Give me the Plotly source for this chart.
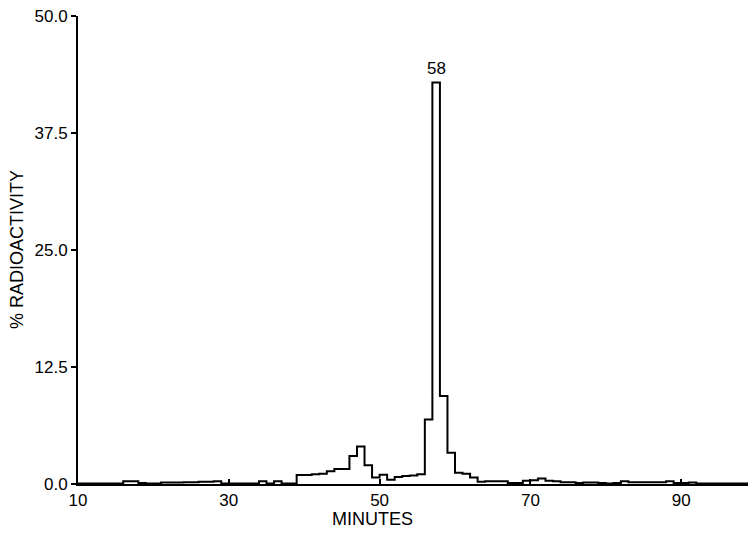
import plotly.graph_objects as go

# Fraction collection: each bin covers the minute before its end time
bin_end_minutes = list(range(11, 100))
radioactivity = [
    0.05, 0.05, 0.05, 0.05, 0.05, 0.05,          # 11-16
    0.3, 0.3, 0.1, 0.05,                         # 17-20
    0.05, 0.15, 0.15, 0.15, 0.2, 0.2, 0.25, 0.25, 0.3, 0.05,   # 21-30
    0.05, 0.05, 0.05, 0.05, 0.3, 0.05, 0.3, 0.05, 0.05, 0.95,  # 31-40
    0.95, 1.05, 1.1, 1.35, 1.6, 1.6, 3.0, 4.0, 2.0, 0.7,       # 41-50
    1.0, 0.45, 0.75, 0.85, 0.9, 1.05, 6.9, 42.9, 9.4, 3.35,    # 51-60
    1.2, 1.1, 0.7, 0.25, 0.3, 0.3, 0.3, 0.1, 0.1, 0.35,        # 61-70
    0.4, 0.6, 0.35, 0.3, 0.2, 0.2, 0.1, 0.15, 0.15, 0.1,       # 71-80
    0.05, 0.1, 0.3, 0.2, 0.2, 0.2, 0.2, 0.2, 0.3, 0.1,         # 81-90
    0.1, 0.15, 0.05, 0.05, 0.05, 0.05, 0.05, 0.05, 0.05,       # 91-99
]
y_tick_values = [0, 12.5, 25, 37.5, 50]
y_tick_labels = ["0.0", "12.5", "25.0", "37.5", "50.0"]
x_tick_values = [10, 30, 50, 70, 90]
peak_label = "58"
x_title = "MINUTES"
y_title = "% RADIOACTIVITY"

bin_starts = [m - 1 for m in bin_end_minutes]
step_x = bin_starts + [bin_end_minutes[-1]]
step_y = radioactivity + [radioactivity[-1]]

peak_idx = bin_end_minutes.index(int(peak_label))

font_family = "Liberation Sans, Arial, Helvetica, sans-serif"

fig = go.Figure()
fig.add_trace(go.Scatter(
    x=step_x, y=step_y, mode="lines", line_shape="hv",
    line=dict(color="black", width=2), hoverinfo="skip", showlegend=False,
))

fig.add_annotation(
    x=bin_starts[peak_idx] + 0.5, y=radioactivity[peak_idx],
    text=peak_label, showarrow=False, yanchor="bottom", yshift=2,
    font=dict(size=17, color="black", family=font_family),
)
# axis titles
fig.add_annotation(
    xref="x", yref="paper", x=49, y=0, yanchor="middle", yshift=-35,
    text=x_title, showarrow=False,
    font=dict(size=18, color="black", family=font_family),
)
fig.add_annotation(
    xref="paper", yref="paper", x=0, y=0.5, xanchor="center", xshift=-61,
    text=y_title, textangle=-90, showarrow=False,
    font=dict(size=18, color="black", family=font_family),
)

fig.update_layout(
    width=748, height=533,
    margin=dict(l=78, r=0, t=16, b=49),
    paper_bgcolor="white", plot_bgcolor="white",
    font=dict(family=font_family, color="black", size=17),
    xaxis=dict(
        range=[10, 98.86], tickmode="array", tickvals=x_tick_values,
        ticks="inside", ticklen=5, tickwidth=1.5, tickcolor="black",
        showline=True, linecolor="black", linewidth=2,
        showgrid=False, zeroline=False,
        tickfont=dict(size=17),
    ),
    yaxis=dict(
        range=[0, 50], tickmode="array", tickvals=y_tick_values, ticktext=y_tick_labels,
        ticks="outside", ticklen=5, tickwidth=1.5, tickcolor="black",
        showline=True, linecolor="black", linewidth=2,
        showgrid=False, zeroline=False,
        tickfont=dict(size=17),
    ),
)

fig.write_html(
    "out.html",
    config={"displayModeBar": False},
    post_script="document.body.style.margin='0';document.body.style.overflow='hidden';",
)
